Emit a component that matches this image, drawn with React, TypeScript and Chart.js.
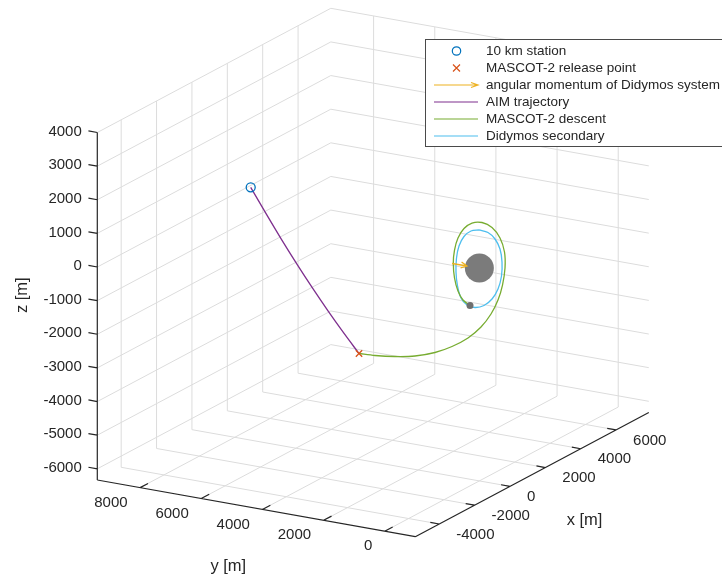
import React, { useEffect, useRef } from "react";
import { Chart, registerables } from "chart.js";

Chart.register(...registerables);

const W = 722;
const H = 574;

// ---------- axis limits and ticks (metres) ----------
const xLimits = [-5350, 7850];
const yLimits = [-1000, 9400];
const zLimits = [-6333, 4000];

const xTicks = [-4000, -2000, 0, 2000, 4000, 6000];
const yTicks = [0, 2000, 4000, 6000, 8000];
const zTicks = [-6000, -5000, -4000, -3000, -2000, -1000, 0, 1000, 2000, 3000, 4000];
const xTickLabels = ["-4000", "-2000", "0", "2000", "4000", "6000"];
const yTickLabels = ["0", "2000", "4000", "6000", "8000"];
const zTickLabels = ["-6000", "-5000", "-4000", "-3000", "-2000", "-1000", "0", "1000", "2000", "3000", "4000"];
const axisTitles = ["x [m]", "y [m]", "z [m]"];

const seriesNames = [
  "10 km station",
  "MASCOT-2 release point",
  "angular momentum of Didymos system",
  "AIM trajectory",
  "MASCOT-2 descent",
  "Didymos secondary",
];

// ---------- data [x, y, z] in metres ----------
const stationPoint = [0, 7478, 1185];
const releasePoint = [0, 3936, -3183];

const aimX = [0, 0, 0, 0, 0, 0, 0, 0];
const aimY = [7478, 6971, 6468, 5961, 5454, 4950, 4443, 3936];
const aimZ = [1185, 476, -206, -861, -1487, -2080, -2646, -3183];

const descentX = [0, 150, 244, 337, 517, 614, 741, 871, 1004, 1140, 1308, 1450, 1421, 1167, 715, 149, -416, -868, -1208, -1405, -1473, -1405, -1208, -925, -529];
const descentY = [3936, 3500, 2900, 2300, 1750, 1250, 800, 450, 200, 50, 0, 0, 0, 0, 0, 0, 0, 0, 0, 0, 0, 0, 0, 0, 0];
const descentZ = [-3183, -3213, -3172, -3086, -2943, -2711, -2420, -2073, -1683, -1281, -874, -408, 76, 563, 1002, 1309, 1452, 1415, 1228, 926, 559, 94, -348, -695, -969];

const secondaryOrbitX = [-20, 488, 884, 1167, 1280, 1252, 1054, 715, 262, -246, -699, -1038, -1236, -1321, -1292, -1151, -868, -473, -20];
const secondaryOrbitY = [0, 0, 0, 0, 0, 0, 0, 0, 0, 0, 0, 0, 0, 0, 0, 0, 0, 0, 0];
const secondaryOrbitZ = [1134, 917, 613, 236, -182, -590, -921, -1124, -1191, -1108, -907, -604, -191, 249, 657, 974, 1178, 1230, 1134];

const primaryBody = [0, 0, 0];
const secondaryBody = [-529, 0, -969];

const momentumTail = [-1547, 0, 565];
const momentumHead = [-699, 0, 253];

// ---------- view (orthographic projection of the plot box) ----------
const BOX_CORNER = [97.3, 480]; // (xmin, ymax, zmin)
const X_EDGE = [233.5, -124.2]; // xmin -> xmax
const Y_EDGE = [318, 56.7]; // ymax -> ymin
const Z_EDGE = [0, -347.5]; // zmin -> zmax
const TICK_PX = 9;

const COLORS = {
  blue: "#0072BD",
  orange: "#D95319",
  yellow: "#EDB120",
  purple: "#7E2F8E",
  green: "#77AC30",
  cyan: "#4DBEEE",
  grid: "#dcdcdc",
  axis: "#262626",
  text: "#262626",
  body: "#7b7b7b",
};
const FONT = '"Liberation Sans", Arial, Helvetica, sans-serif';

function proj(x: number, y: number, z: number) {
  const u = (x - xLimits[0]) / (xLimits[1] - xLimits[0]);
  const v = (yLimits[1] - y) / (yLimits[1] - yLimits[0]);
  const w = (z - zLimits[0]) / (zLimits[1] - zLimits[0]);
  return {
    x: BOX_CORNER[0] + u * X_EDGE[0] + v * Y_EDGE[0] + w * Z_EDGE[0],
    y: BOX_CORNER[1] + u * X_EDGE[1] + v * Y_EDGE[1] + w * Z_EDGE[1],
  };
}
const projP = (p: number[]) => proj(p[0], p[1], p[2]);
const GAP = { x: NaN, y: NaN };

function segments(list: number[][][]) {
  const out: any[] = [];
  list.forEach((s, i) => {
    if (i > 0) out.push(GAP);
    out.push(projP(s[0]), projP(s[1]));
  });
  return out;
}

function series(xs: number[], ys: number[], zs: number[]) {
  return xs.map((x, i) => proj(x, ys[i], zs[i]));
}

export default function App() {
  const ref = useRef<HTMLCanvasElement>(null);

  useEffect(() => {
    const canvas = ref.current;
    if (!canvas) return;
    const [xmin, xmax] = xLimits;
    const [ymin, ymax] = yLimits;
    const [zmin, zmax] = zLimits;
    const xr = xmax - xmin;
    const yr = ymax - ymin;
    const tickY = (TICK_PX / Math.hypot(Y_EDGE[0], Y_EDGE[1])) * yr;
    const tickX = (TICK_PX / Math.hypot(X_EDGE[0], X_EDGE[1])) * xr;

    // grid on the three back planes
    const gridSegs: number[][][] = [];
    xTicks.forEach((x) => {
      gridSegs.push([[x, ymin, zmin], [x, ymax, zmin]]);
      gridSegs.push([[x, ymax, zmin], [x, ymax, zmax]]);
    });
    yTicks.forEach((y) => {
      gridSegs.push([[xmin, y, zmin], [xmax, y, zmin]]);
      gridSegs.push([[xmax, y, zmin], [xmax, y, zmax]]);
    });
    zTicks.forEach((z) => {
      gridSegs.push([[xmin, ymax, z], [xmax, ymax, z]]);
      gridSegs.push([[xmax, ymin, z], [xmax, ymax, z]]);
    });

    const axisSegs: number[][][] = [
      [[xmin, ymax, zmin], [xmin, ymax, zmax]],
      [[xmin, ymin, zmin], [xmin, ymax, zmin]],
      [[xmin, ymin, zmin], [xmax, ymin, zmin]],
    ];
    zTicks.forEach((z) => axisSegs.push([[xmin, ymax, z], [xmin, ymax + tickY, z]]));
    yTicks.forEach((y) => axisSegs.push([[xmin, y, zmin], [xmin + tickX, y, zmin]]));
    xTicks.forEach((x) => axisSegs.push([[x, ymin, zmin], [x, ymin + tickY, zmin]]));

    // quiver arrow with head
    const t = projP(momentumTail);
    const h = projP(momentumHead);
    const len = Math.hypot(h.x - t.x, h.y - t.y);
    const dx = (h.x - t.x) / len;
    const dy = (h.y - t.y) / len;
    const arrowData = [
      t,
      h,
      GAP,
      { x: h.x - dx * 6 - dy * 3, y: h.y - dy * 6 + dx * 3 },
      h,
      { x: h.x - dx * 6 + dy * 3, y: h.y - dy * 6 - dx * 3 },
    ];

    const lineDs = (data: any[], color: string, width: number, order: number, label = "", tension = 0) => ({
      label,
      data,
      showLine: true,
      borderColor: color,
      borderWidth: width,
      pointRadius: 0,
      tension,
      spanGaps: false,
      order,
    });

    const overlay = {
      id: "overlay",
      afterDatasetsDraw(chart: any) {
        const ctx = chart.ctx as CanvasRenderingContext2D;
        const sx = chart.scales.x;
        const sy = chart.scales.y;
        const px = (p: { x: number; y: number }) => ({
          x: sx.getPixelForValue(p.x),
          y: sy.getPixelForValue(p.y),
        });
        ctx.save();
        ctx.fillStyle = COLORS.text;
        ctx.font = `15px ${FONT}`;
        ctx.textBaseline = "middle";
        // z tick labels
        ctx.textAlign = "right";
        zTicks.forEach((z, i) => {
          const p = px(proj(xmin, ymax, z));
          ctx.fillText(zTickLabels[i], p.x - 15.5, p.y - 1);
        });
        // y tick labels
        yTicks.forEach((y, i) => {
          const p = px(proj(xmin, y, zmin));
          ctx.fillText(yTickLabels[i], p.x - 12.5, p.y + 15);
        });
        // x tick labels
        ctx.textAlign = "left";
        xTicks.forEach((x, i) => {
          const p = px(proj(x, ymin, zmin));
          ctx.fillText(xTickLabels[i], p.x + 17, p.y + 10.5);
        });
        // axis titles
        ctx.font = `16.5px ${FONT}`;
        ctx.textAlign = "center";
        const xl = px(proj((xmin + xmax) / 2, ymin, zmin));
        ctx.fillText(axisTitles[0], xl.x + 52.5, xl.y + 46);
        const yl = px(proj(xmin, (ymin + ymax) / 2, zmin));
        ctx.fillText(axisTitles[1], yl.x - 28, yl.y + 58);
        const zl = px(proj(xmin, ymax, (zmin + zmax) / 2));
        ctx.save();
        ctx.translate(zl.x - 75, zl.y - 11);
        ctx.rotate(-Math.PI / 2);
        ctx.fillText(axisTitles[2], 0, 0);
        ctx.restore();

        // legend
        const bx = 425.5;
        const by = 39.5;
        ctx.fillStyle = "#ffffff";
        ctx.fillRect(bx, by, 320, 107);
        ctx.strokeStyle = "#4a4a4a";
        ctx.lineWidth = 1;
        ctx.strokeRect(bx, by, 320, 107);
        const rows = [51, 68, 85, 102, 119, 136];
        const gx0 = 434;
        const gx1 = 478;
        const gxm = 456.5;
        ctx.lineWidth = 1.2;
        // station marker
        ctx.strokeStyle = COLORS.blue;
        ctx.beginPath();
        ctx.arc(gxm, rows[0], 4.2, 0, Math.PI * 2);
        ctx.stroke();
        // release marker
        ctx.strokeStyle = COLORS.orange;
        ctx.beginPath();
        ctx.moveTo(gxm - 3.5, rows[1] - 3.5);
        ctx.lineTo(gxm + 3.5, rows[1] + 3.5);
        ctx.moveTo(gxm + 3.5, rows[1] - 3.5);
        ctx.lineTo(gxm - 3.5, rows[1] + 3.5);
        ctx.stroke();
        // arrow
        ctx.strokeStyle = COLORS.yellow;
        ctx.beginPath();
        ctx.moveTo(gx0, rows[2]);
        ctx.lineTo(gx1, rows[2]);
        ctx.moveTo(gx1 - 7, rows[2] - 2.5);
        ctx.lineTo(gx1, rows[2]);
        ctx.lineTo(gx1 - 7, rows[2] + 2.5);
        ctx.stroke();
        const lineColors = [COLORS.purple, COLORS.green, COLORS.cyan];
        lineColors.forEach((c, i) => {
          ctx.strokeStyle = c;
          ctx.beginPath();
          ctx.moveTo(gx0, rows[3 + i]);
          ctx.lineTo(gx1, rows[3 + i]);
          ctx.stroke();
        });
        ctx.fillStyle = COLORS.text;
        ctx.font = `13.5px ${FONT}`;
        ctx.textAlign = "left";
        seriesNames.forEach((name, i) => ctx.fillText(name, 486, rows[i]));
        ctx.restore();
      },
    };

    const chart = new Chart(canvas, {
      type: "scatter",
      data: {
        datasets: [
          lineDs(segments(gridSegs), COLORS.grid, 1, 100),
          lineDs(segments(axisSegs), COLORS.axis, 1.2, 90),
          lineDs(series(aimX, aimY, aimZ), COLORS.purple, 1.3, 12, seriesNames[3], 0.3),
          lineDs(series(secondaryOrbitX, secondaryOrbitY, secondaryOrbitZ), COLORS.cyan, 1.3, 11, seriesNames[5], 0.3),
          lineDs(series(descentX, descentY, descentZ), COLORS.green, 1.3, 10, seriesNames[4], 0.3),
          {
            label: "primary",
            data: [projP(primaryBody)],
            pointRadius: 14.5,
            pointStyle: "circle",
            backgroundColor: COLORS.body,
            borderWidth: 0,
            pointBorderWidth: 0,
            order: 8,
          },
          lineDs(arrowData, COLORS.yellow, 1.3, 7, seriesNames[2]),
          {
            label: "secondary",
            data: [projP(secondaryBody)],
            pointRadius: 3.5,
            pointStyle: "circle",
            backgroundColor: "#6e6e6e",
            borderWidth: 0,
            pointBorderWidth: 0,
            order: 6,
          },
          {
            label: seriesNames[0],
            data: [projP(stationPoint)],
            pointRadius: 4.5,
            pointStyle: "circle",
            backgroundColor: "rgba(0,0,0,0)",
            borderColor: COLORS.blue,
            pointBorderWidth: 1.3,
            order: 2,
          },
          {
            label: seriesNames[1],
            data: [projP(releasePoint)],
            pointRadius: 4.5,
            pointStyle: "crossRot",
            borderColor: COLORS.orange,
            pointBorderWidth: 1.3,
            order: 1,
          },
        ] as any,
      },
      options: {
        responsive: false,
        animation: false,
        events: [],
        layout: { padding: 0, autoPadding: false },
        plugins: { legend: { display: false }, tooltip: { enabled: false } },
        scales: {
          x: { type: "linear", min: 0, max: W, display: false },
          y: { type: "linear", min: 0, max: H, reverse: true, display: false },
        },
      },
      plugins: [overlay],
    });
    return () => chart.destroy();
  }, []);

  return (
    <div style={{ position: "fixed", left: 0, top: 0, width: W, height: H, background: "#ffffff" }}>
      <canvas ref={ref} width={W} height={H} style={{ display: "block", width: W, height: H }} />
    </div>
  );
}
